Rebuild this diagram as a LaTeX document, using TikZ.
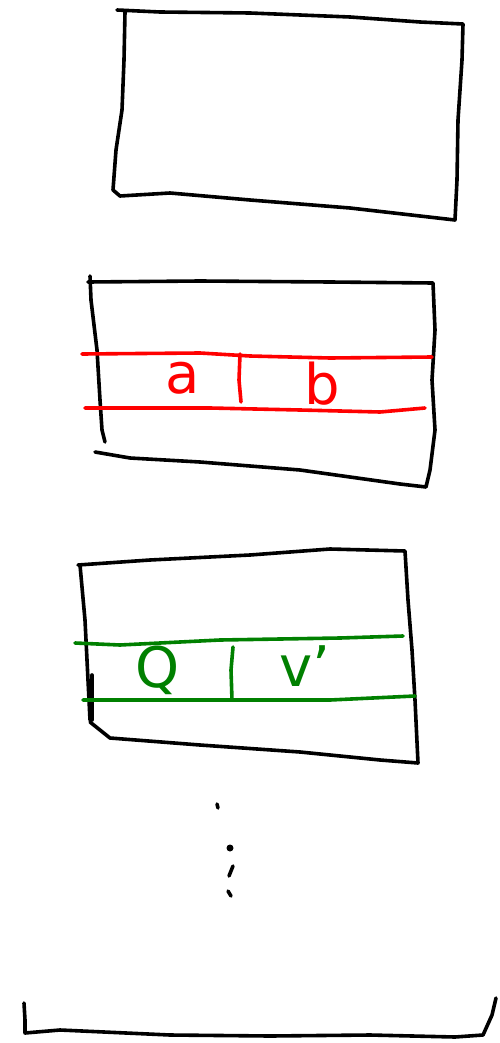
\documentclass[tikz,border=0pt]{standalone}
\usepackage{fontspec}
\setmainfont{DejaVu Sans}
\definecolor{pred}{RGB}{255,0,0}
\definecolor{pgreen}{RGB}{0,128,0}
\begin{document}
\begin{tikzpicture}[x=1pt,y=-1pt,
  ink/.style={line width=3.6pt,line cap=round,line join=round},
  blk/.style={ink,black},
  redl/.style={ink,pred},
  grnl/.style={ink,pgreen},
  lbl/.style={font=\fontsize{56}{56}\selectfont,inner sep=0pt}]
\useasboundingbox (0,0) rectangle (500,1043);
% box 1
\draw[blk] (117,10) -- (160,12) -- (250,13) -- (350,17) -- (420,22) -- (463,24)
  -- (462,60) -- (458,120) -- (457,180) -- (455,220)
  -- (420,216) -- (350,208) -- (250,200) -- (170,193) -- (120,196) -- (113,190)
  -- (116,150) -- (122,110) -- (124,60) -- (125,12);
% box 2
\draw[blk] (90,276) -- (91,300);
\draw[blk] (88,282) -- (200,281) -- (330,282) -- (433,283)
  -- (435,330) -- (432,380) -- (435,430) -- (430,470) -- (426,487)
  -- (400,484) -- (300,470) -- (200,462) -- (130,458) -- (95,452);
\draw[blk] (91,300) -- (97,350) -- (100,400) -- (102,430) -- (105,442);
% red row
\draw[redl] (82,354) -- (200,353) -- (250,356) -- (330,358) -- (432,357);
\draw[redl] (85,408) -- (210,408) -- (300,410) -- (380,412) -- (425,408);
\draw[redl] (240,354) -- (239,380) -- (241,402);
\node[lbl,text=pred] (ta) at (183,378) {a};
\node[lbl,text=pred] (tb) at (322,384) {b};
% box 3
\draw[blk] (78,565) -- (150,560) -- (250,555) -- (330,549) -- (405,551)
  -- (408,600) -- (412,650) -- (415,700) -- (418,763)
  -- (380,760) -- (300,752) -- (200,745) -- (110,738) -- (90,722);
\draw[blk] (80,565) -- (85,620) -- (88,680) -- (90,720);
\draw[blk] (92,675) -- (92,720);
% green row
\draw[grnl] (75,643) -- (120,645) -- (220,640) -- (340,638) -- (403,636);
\draw[grnl] (83,700) -- (200,700) -- (330,700) -- (415,696);
\draw[grnl] (233,647) -- (231,670) -- (232,700);
\node[lbl,text=pgreen] (tq) at (158,670) {Q};
\node[lbl,text=pgreen] (tv) at (305,666) {v'};
% dots
\draw[blk] (217,804) -- (218,808);
\fill (230,848) circle (3.5pt);
\draw[blk] (233,866) -- (229,876);
\draw[blk] (228,891) -- (231,896);
% bottom
\draw[blk] (24,1003) -- (25,1020) -- (25,1033) -- (60,1030) -- (170,1035) -- (270,1036) -- (370,1035) -- (455,1037) -- (483,1035) -- (492,1015) -- (496,998);
\end{tikzpicture}
\end{document}
